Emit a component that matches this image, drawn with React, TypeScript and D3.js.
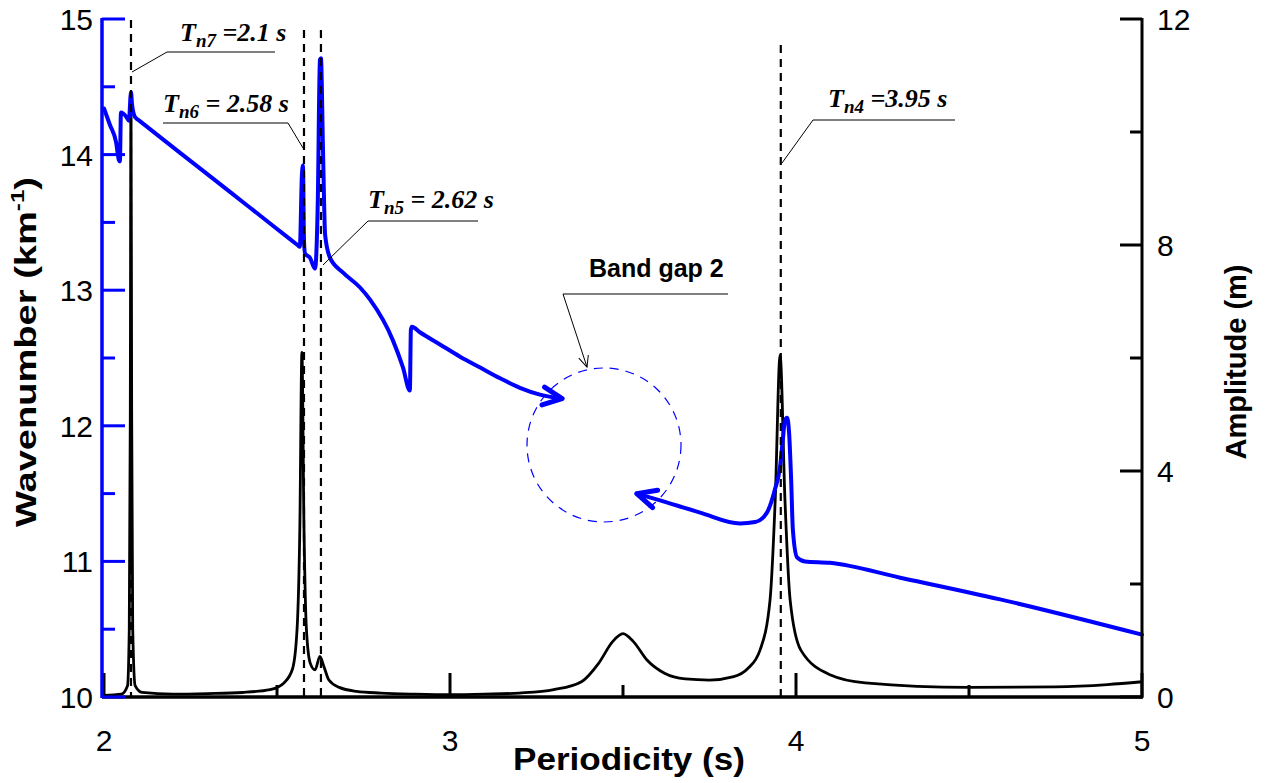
import React from "react";
import * as d3 from "d3";

// Wavenumber (left axis) – first branch, ends with arrow into band gap
const waveA_period = [2.0, 2.017, 2.035, 2.043, 2.046, 2.049, 2.064, 2.072, 2.078, 2.081, 2.086, 2.092, 2.100, 2.220, 2.364, 2.480, 2.561, 2.566, 2.572, 2.575, 2.578, 2.581, 2.595, 2.610, 2.618, 2.624, 2.627, 2.633, 2.639, 2.653, 2.691, 2.740, 2.769, 2.835, 2.864, 2.884, 2.887, 2.890, 2.913, 2.971, 3.029, 3.087, 3.145, 3.202, 3.260, 3.324];
const waveA_k = [14.34, 14.22, 14.09, 13.96, 13.95, 14.31, 14.28, 14.25, 14.46, 14.37, 14.30, 14.27, 14.254, 14.013, 13.725, 13.492, 13.330, 13.320, 13.85, 13.92, 13.37, 13.27, 13.24, 13.16, 13.67, 14.70, 14.71, 14.03, 13.41, 13.24, 13.13, 13.02, 12.93, 12.63, 12.43, 12.26, 12.71, 12.73, 12.69, 12.60, 12.51, 12.43, 12.35, 12.28, 12.23, 12.20];

// Wavenumber – second branch, arrow pointing back into band gap
const waveB_period = [3.540, 3.607, 3.723, 3.838, 3.882, 3.916, 3.939, 3.954, 3.962, 3.968, 3.974, 3.980, 3.986, 3.991, 4.003, 4.026, 4.098, 4.301, 4.590, 5.0];
const waveB_k = [11.50, 11.45, 11.36, 11.28, 11.29, 11.36, 11.53, 11.70, 11.90, 12.04, 12.06, 11.95, 11.60, 11.23, 11.03, 11.00, 10.99, 10.88, 10.72, 10.46];

// Amplitude (right axis)
const amp_period = [2.0, 2.05, 2.068, 2.073, 2.076, 2.078, 2.080, 2.083, 2.09, 2.11, 2.2, 2.3, 2.4, 2.48, 2.52, 2.545, 2.558, 2.566, 2.572, 2.578, 2.585, 2.596, 2.61, 2.624, 2.635, 2.65, 2.68, 2.73, 2.8, 2.9, 3.0, 3.1, 3.2, 3.3, 3.38, 3.43, 3.47, 3.5, 3.53, 3.57, 3.62, 3.68, 3.75, 3.82, 3.86, 3.896, 3.925, 3.94, 3.954, 3.968, 3.983, 4.014, 4.1, 4.2, 4.5, 4.75, 4.9, 5.0];
const amp_m = [0.03, 0.05, 0.2, 1.2, 5, 10.7, 5, 1.2, 0.2, 0.08, 0.05, 0.06, 0.08, 0.13, 0.25, 0.5, 1.2, 3, 6.1, 3, 1.2, 0.6, 0.48, 0.72, 0.55, 0.3, 0.17, 0.1, 0.07, 0.05, 0.04, 0.05, 0.07, 0.13, 0.27, 0.6, 0.98, 1.12, 0.98, 0.65, 0.42, 0.32, 0.3, 0.36, 0.5, 0.83, 1.72, 3.5, 6.05, 3.5, 1.72, 0.83, 0.39, 0.25, 0.17, 0.18, 0.22, 0.27];

// Natural periods marked with dashed lines
const modeNames = ["n7", "n6", "n5", "n4"];
const modeLabels = [" =2.1 s", " = 2.58 s", " = 2.62 s", " =3.95 s"];
const modePeriods = [2.078, 2.578, 2.627, 3.956];

const xTicks = [2, 3, 4, 5];
const xMinor = [2.5, 3.5, 4.5];
const yLeftTicks = [10, 11, 12, 13, 14, 15];
const yLeftMinor = [10.5, 11.5, 12.5, 13.5, 14.5];
const yRightTicks = [0, 4, 8, 12];
const yRightMinor = [2, 6, 10];

const BLUE = "#0000ff";

export default function App() {
  const x = d3.scaleLinear().domain([2, 5]).range([104, 1142]);
  const yL = d3.scaleLinear().domain([10, 15]).range([697, 19]);
  const yR = d3.scaleLinear().domain([0, 12]).range([697, 19]);

  const lineL = d3.line<[number, number]>().x((d) => x(d[0])).y((d) => yL(d[1])).curve(d3.curveMonotoneX);
  const lineR = d3.line<[number, number]>().x((d) => x(d[0])).y((d) => yR(d[1])).curve(d3.curveMonotoneX);

  const dA = lineL(waveA_period.map((p, i) => [p, waveA_k[i]] as [number, number])) || "";
  const dB = lineL(waveB_period.map((p, i) => [p, waveB_k[i]] as [number, number]).reverse()) || "";
  const dAmp = lineR(amp_period.map((p, i) => [p, amp_m[i]] as [number, number])) || "";

  const dashTop = [20, 30, 30, 45];
  const ann = [
    { tx: 180, ty: 41, lx1: 167, lx2: 275, ly: 52, sx: 167, ex: 132, ey: 72 },
    { tx: 163, ty: 112, lx1: 163, lx2: 288, ly: 123, sx: 288, ex: 303, ey: 148 },
    { tx: 368, ty: 208, lx1: 368, lx2: 478, ly: 221, sx: 368, ex: 323, ey: 265 },
    { tx: 828, ty: 107, lx1: 813, lx2: 955, ly: 120, sx: 813, ex: 782, ey: 163 },
  ];

  const serif = "'Liberation Serif', 'Times New Roman', serif";
  const sans = "'Liberation Sans', Arial, sans-serif";

  return (
    <svg width={1272} height={783} style={{ position: "absolute", left: 0, top: 0, background: "#fff" }}>
      <defs>
        <marker id="blueArrow" markerUnits="userSpaceOnUse" viewBox="-24 -13 28 26" refX={0} refY={0} markerWidth={28} markerHeight={26} orient="auto-start-reverse">
          <path d="M-19,-9 L0,0 L-19,9" fill="none" stroke={BLUE} strokeWidth={5} strokeLinejoin="round" strokeLinecap="round" />
        </marker>
        <marker id="thinArrow" markerUnits="userSpaceOnUse" viewBox="-14 -7 16 14" refX={0} refY={0} markerWidth={16} markerHeight={14} orient="auto">
          <path d="M-11,-5 L0,0 L-11,5" fill="none" stroke="#000" strokeWidth={1} />
        </marker>
      </defs>

      {/* amplitude curve */}
      <path d={dAmp} fill="none" stroke="#000" strokeWidth={2.8} strokeLinejoin="round" />

      {/* wavenumber curves */}
      <path d={dA} fill="none" stroke={BLUE} strokeWidth={4} strokeLinejoin="round" strokeLinecap="round" markerEnd="url(#blueArrow)" />
      <path d={dB} fill="none" stroke={BLUE} strokeWidth={4} strokeLinejoin="round" strokeLinecap="round" markerEnd="url(#blueArrow)" />

      {/* dashed natural period lines */}
      {modePeriods.map((p, i) => (
        <line key={"dl" + i} x1={x(p)} x2={x(p)} y1={dashTop[i]} y2={697} stroke="#000" strokeWidth={2.2} strokeDasharray="8,6" />
      ))}

      {/* band gap circle */}
      <circle cx={604} cy={445} r={77} fill="none" stroke={BLUE} strokeWidth={1.2} strokeDasharray="9,7" />
      <text x={589} y={277} fontFamily={sans} fontWeight="bold" fontSize={25} fill="#000">Band gap 2</text>
      <line x1={563} y1={294} x2={728} y2={294} stroke="#000" strokeWidth={1} />
      <line x1={563} y1={294} x2={587} y2={367} stroke="#000" strokeWidth={1} markerEnd="url(#thinArrow)" />

      {/* annotations */}
      {ann.map((a, i) => (
        <g key={"an" + i}>
          <text x={a.tx} y={a.ty} fontFamily={serif} fontWeight="bold" fontStyle="italic" fontSize={26} fill="#000">
            T<tspan fontSize={19} dy={6}>{modeNames[i]}</tspan>
            <tspan dy={-6}>{modeLabels[i]}</tspan>
          </text>
          <line x1={a.lx1} x2={a.lx2} y1={a.ly} y2={a.ly} stroke="#000" strokeWidth={1} />
          <line x1={a.sx} y1={a.ly} x2={a.ex} y2={a.ey} stroke="#000" strokeWidth={1} />
        </g>
      ))}

      {/* bottom axis */}
      <line x1={102} x2={1143} y1={697} y2={697} stroke="#000" strokeWidth={3.5} />
      {xTicks.map((t) => (
        <g key={"xt" + t}>
          <line x1={x(t)} x2={x(t)} y1={697} y2={673} stroke="#000" strokeWidth={3} />
          <text x={x(t)} y={751} textAnchor="middle" fontFamily={sans} fontSize={30} fill="#000">{t}</text>
        </g>
      ))}
      {xMinor.map((t) => (
        <line key={"xm" + t} x1={x(t)} x2={x(t)} y1={697} y2={685} stroke="#000" strokeWidth={3} />
      ))}
      <text x={629} y={770} textAnchor="middle" fontFamily={sans} fontWeight="bold" fontSize={31} textLength={232} lengthAdjust="spacingAndGlyphs" fill="#000">Periodicity (s)</text>

      {/* left axis */}
      <line x1={102} x2={102} y1={18} y2={698} stroke={BLUE} strokeWidth={3.5} />
      {yLeftTicks.map((t) => (
        <g key={"yl" + t}>
          <line x1={102} x2={125} y1={yL(t)} y2={yL(t)} stroke={BLUE} strokeWidth={3} />
          <text x={93} y={yL(t) + 11} textAnchor="end" fontFamily={sans} fontSize={30} fill="#000">{t}</text>
        </g>
      ))}
      {yLeftMinor.map((t) => (
        <line key={"ylm" + t} x1={102} x2={115} y1={yL(t)} y2={yL(t)} stroke={BLUE} strokeWidth={3} />
      ))}
      <text transform="translate(36,352) rotate(-90)" textAnchor="middle" fontFamily={sans} fontWeight="bold" fontSize={30} textLength={350} lengthAdjust="spacingAndGlyphs" fill="#000">
        Wavenumber (km<tspan fontSize={19} dy={-12}>-1</tspan><tspan dy={12}>)</tspan>
      </text>

      {/* right axis */}
      <line x1={1142} x2={1142} y1={18} y2={698} stroke="#000" strokeWidth={3} />
      {yRightTicks.map((t) => (
        <g key={"yr" + t}>
          <line x1={1142} x2={1120} y1={yR(t)} y2={yR(t)} stroke="#000" strokeWidth={3} />
          <text x={1157} y={yR(t) + 11} textAnchor="start" fontFamily={sans} fontSize={30} fill="#000">{t}</text>
        </g>
      ))}
      {yRightMinor.map((t) => (
        <line key={"yrm" + t} x1={1142} x2={1130} y1={yR(t)} y2={yR(t)} stroke="#000" strokeWidth={3} />
      ))}
      <text transform="translate(1246,362) rotate(-90)" textAnchor="middle" fontFamily={sans} fontWeight="bold" fontSize={30} textLength={195} lengthAdjust="spacingAndGlyphs" fill="#000">Amplitude (m)</text>
    </svg>
  );
}
